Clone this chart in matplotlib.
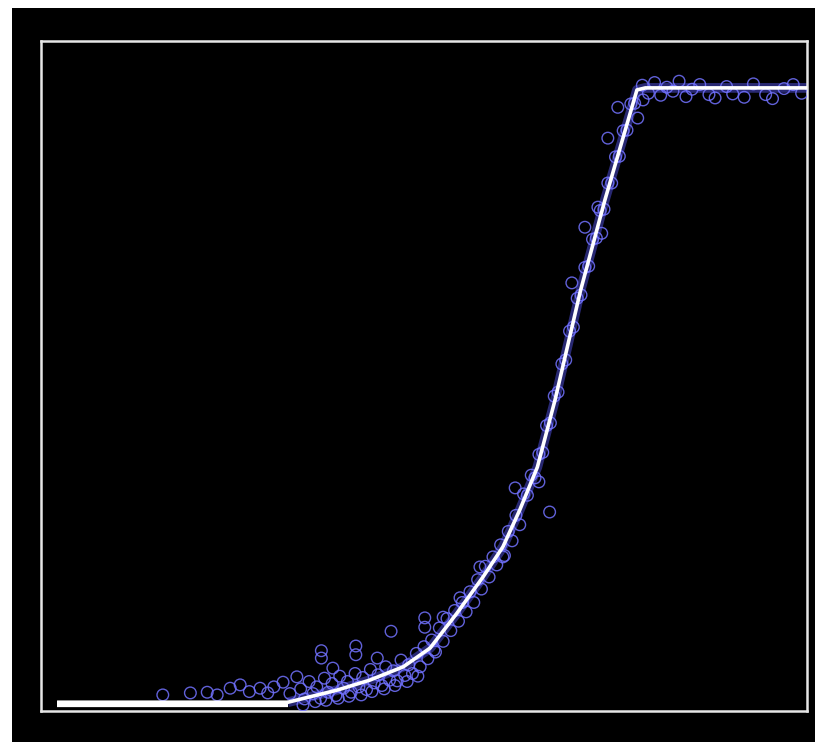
import matplotlib
matplotlib.use("Agg")
import matplotlib.pyplot as plt
from matplotlib.patches import Rectangle

# fitted curve (piecewise)
curve_x = [2.1, 32.2, 38.6, 42.9, 47.3, 50.8, 54.3, 57.7, 60.3, 62.5, 64.8,
           67.1, 70.4, 73.6, 77.8, 78.9, 100.0]
curve_y = [1.3, 1.3, 3.1, 4.6, 6.6, 9.4, 14.6, 20.0, 24.5, 30.0, 36.4,
           46.4, 62.6, 76.2, 92.7, 93.0, 93.0]

# observations
obs_x = [15.9, 19.5, 21.7, 23.0, 24.7, 26.0, 27.2, 28.6, 29.6, 30.4, 31.6, 32.5,
         33.4, 33.9, 34.4, 35.0, 35.5, 36.0, 36.5, 37.0, 37.5, 38.0, 38.5, 39.0,
         39.5, 40.0, 40.5, 41.0, 41.5, 42.0, 42.5, 43.0, 43.5, 44.0, 44.5, 45.0,
         45.5, 46.0, 46.5, 47.0, 47.5, 48.0, 48.5, 49.0, 49.5, 50.0, 50.5, 51.0,
         51.5, 52.0, 52.5, 53.0, 53.5, 54.0, 54.5, 55.0, 55.5, 56.0, 56.5, 57.0,
         57.5, 58.0, 58.5, 59.0, 59.5, 60.0, 60.5, 61.0, 61.5, 62.0, 62.5, 63.0,
         63.5, 64.0, 64.5, 65.0, 65.5, 66.0, 66.5, 67.0, 67.5, 68.0, 68.5, 69.0,
         69.5, 70.0, 70.5, 71.0, 71.5, 72.0, 72.5, 73.0, 73.5, 74.0, 74.5, 75.0,
         75.5, 76.0, 76.5, 77.0, 77.5,
         36.6, 36.6, 38.1, 41.1, 41.1, 43.9, 45.7, 50.1, 50.1, 51.3, 52.5, 54.7,
         57.3, 60.3, 61.9, 65.0, 66.4, 69.3, 71.0, 72.7, 73.2, 74.0, 75.3, 77.9,
         78.6,
         78.5, 79.3, 80.1, 80.9, 81.7, 82.5, 83.3, 84.2, 85.0, 86.0, 87.2, 88.0,
         89.5, 90.3, 91.8, 93.0, 94.6, 95.5, 97.0, 98.2, 99.3,
         34.2, 35.8, 37.2, 38.8, 40.2, 41.8, 43.2, 44.8, 46.2, 47.8, 49.2]
obs_y = [2.4, 2.7, 2.8, 2.4, 3.4, 3.9, 2.9, 3.4, 2.7, 3.6, 4.3, 2.6,
         5.1, 3.3, 1.8, 4.4, 2.6, 3.6, 1.9, 4.9, 2.8, 4.1, 2.3, 5.2,
         3.4, 4.4, 2.8, 5.6, 3.6, 5.0, 3.2, 6.2, 4.2, 5.4, 3.8, 6.6,
         4.6, 6.0, 4.5, 7.6, 5.3, 6.9, 5.6, 8.6, 6.6, 9.6, 7.8, 10.6,
         8.8, 12.4, 10.4, 13.8, 12.0, 15.0, 13.4, 16.2, 14.8, 17.8, 16.2, 19.6,
         18.2, 21.6, 20.0, 23.0, 21.8, 24.8, 23.2, 26.8, 25.4, 29.2, 27.8, 32.4,
         32.2, 35.2, 34.8, 38.3, 38.6, 42.6, 43.0, 47.0, 47.6, 51.8, 52.4, 56.7,
         57.3, 61.6, 62.1, 66.2, 66.4, 70.4, 70.6, 74.7, 74.9, 78.8, 78.8, 82.7,
         82.8, 86.6, 86.7, 90.6, 90.7,
         9.0, 7.9, 6.4, 9.7, 8.4, 7.9, 11.9, 13.9, 12.5, 9.1, 14.0, 16.9,
         21.5, 23.0, 33.3, 34.2, 29.7, 63.9, 72.2, 75.2, 71.3, 85.5, 90.1, 88.5,
         91.2,
         93.4, 92.2, 93.8, 91.9, 93.1, 92.5, 94.0, 91.7, 92.8, 93.5, 92.0, 91.5,
         93.2, 92.1, 91.6, 93.6, 92.0, 91.4, 92.9, 93.5, 92.2,
         0.9, 1.4, 1.6, 1.9, 2.2, 2.4, 2.9, 3.3, 3.8, 4.4, 5.2]

fig = plt.figure(figsize=(8.15, 7.42), dpi=100)
fig.patch.set_facecolor("white")
bg = Rectangle((12 / 815, 0), 1 - 12 / 815, 1 - 8 / 742,
               transform=fig.transFigure, facecolor="black",
               edgecolor="none", zorder=-10)
fig.add_artist(bg)

ax = fig.add_axes([41 / 815, 31 / 742, 766 / 815, 670 / 742])
ax.set_zorder(5)
ax.set_facecolor("black")
ax.set_xlim(0, 100)
ax.set_ylim(0, 100)
ax.set_xticks([])
ax.set_yticks([])
for sp in ax.spines.values():
    sp.set_color("#e6e6e6")
    sp.set_linewidth(1.8)

ax.plot(curve_x[1:], curve_y[1:], color="#5a5aff", lw=7, alpha=0.45,
        solid_capstyle="butt", zorder=2)
ax.scatter(obs_x, obs_y, s=70, facecolors="none", edgecolors="#7272ff",
           linewidths=1.0, alpha=0.85, zorder=3)
ax.plot(curve_x, curve_y, color="white", lw=2.6, solid_capstyle="butt",
        zorder=4)
ax.plot(curve_x[:2], [curve_y[0] - 0.25] * 2, color="white", lw=4.5,
        solid_capstyle="butt", zorder=4)

fig.savefig("out.png", dpi=100, facecolor=fig.get_facecolor())
